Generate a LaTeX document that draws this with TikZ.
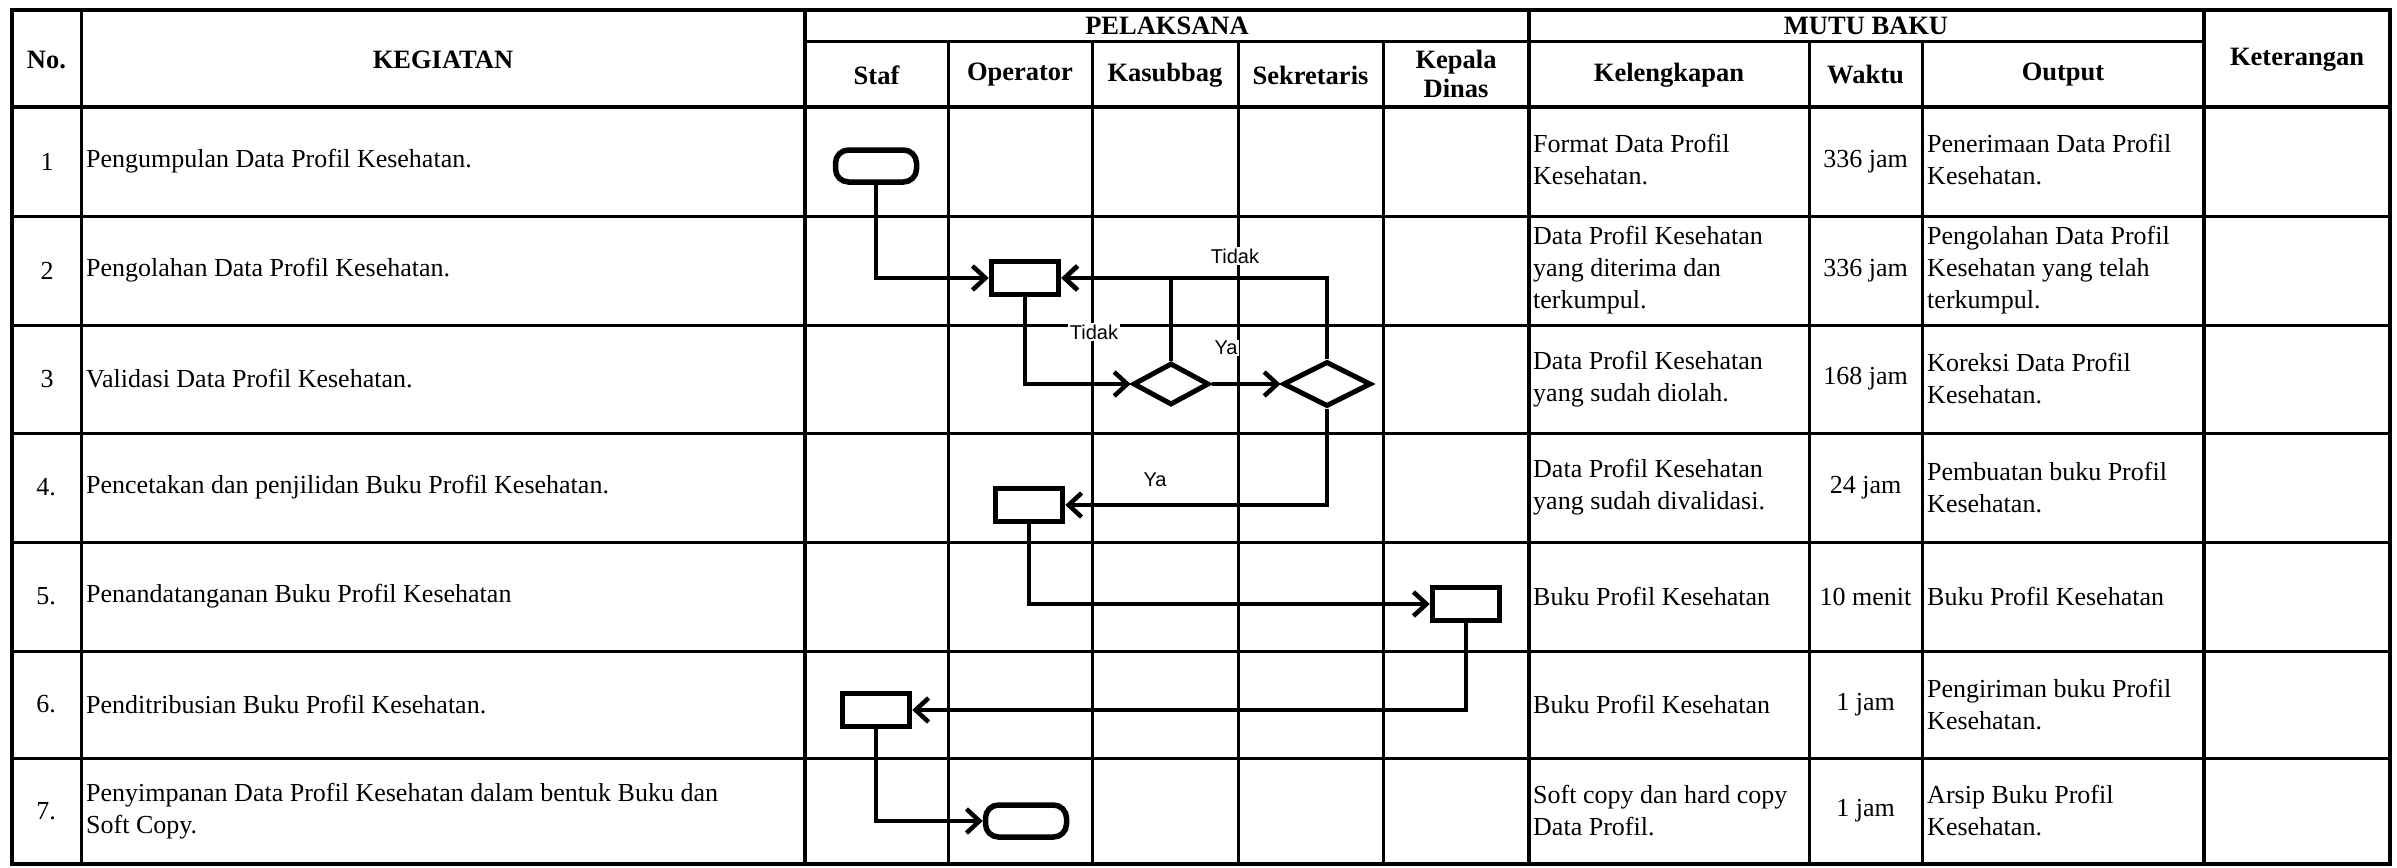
\documentclass[tikz,border=0pt]{standalone}
\usepackage{fontspec}
\setmainfont{Liberation Serif}
\newfontfamily\lblfont{Liberation Sans}
\usetikzlibrary{arrows.meta,shapes.geometric}
\begin{document}
\begin{tikzpicture}[x=1pt,y=-1pt,
  thingrid/.style={line width=3pt},
  thickgrid/.style={line width=4.5pt},
  txt/.style={font=\fontsize{26}{32}\selectfont, inner sep=0pt, align=left, anchor=west},
  ctr/.style={font=\fontsize{26}{32}\selectfont, inner sep=0pt, align=center},
  hdr/.style={font=\fontsize{26.5}{29}\selectfont\bfseries, inner sep=0pt, align=center},
  proc/.style={draw, line width=5.5pt, minimum width=67pt, minimum height=33pt, inner sep=0pt},
  term/.style={draw, line width=5.5pt, rounded corners=13pt, minimum width=81pt, minimum height=32pt, inner sep=0pt},
  dec/.style={draw, diamond, line width=5pt, inner sep=0pt},
  conn/.style={line width=4.5pt, -{Straight Barb[length=13pt,width=24pt]}},
  lbl/.style={font=\lblfont\fontsize{20}{22}\selectfont, fill=white, inner sep=1.5pt}
]
\useasboundingbox (0,0) rectangle (2397,867);
\fill[white] (0,0) rectangle (2397,867);

% grid
\draw[thickgrid] (12,10) rectangle (2390,864);
\draw[thickgrid] (12,107) -- (2390,107);
\foreach \x in {805,1529,2204} \draw[thickgrid] (\x,10) -- (\x,864);
\draw[thingrid] (81,10) -- (81,864);
\draw[thingrid] (805,42) -- (2204,42);
\foreach \x in {948,1092,1238,1383,1809,1922} \draw[thingrid] (\x,42) -- (\x,864);
\foreach \y in {216,325,433,542,651,758} \draw[thingrid] (12,\y) -- (2390,\y);

% header
\node[hdr] (hno) at (46.5,60) {No.};
\node[hdr] (hkeg) at (443,60) {KEGIATAN};
\node[hdr] (hpel) at (1167,26) {PELAKSANA};
\node[hdr] (hmutu) at (1866,26) {MUTU BAKU};
\node[hdr] (hstaf) at (876.5,75) {Staf};
\node[hdr] (hop) at (1020,75) {Operator};
\node[hdr] (hkas) at (1165,75) {Kasubbag};
\node[hdr] (hsek) at (1310.5,75) {Sekretaris};
\node[hdr] (hkd) at (1456,74) {Kepala\\Dinas};
\node[hdr] (hkel) at (1669,75) {Kelengkapan};
\node[hdr] (hwak) at (1865.5,75) {Waktu};
\node[hdr] (hout) at (2063,75) {Output};
\node[hdr] (hket) at (2297,60) {Keterangan};

% numbers
\node[ctr] (n1) at (47,161.5) {1};
\node[ctr] (n2) at (47,270.5) {2};
\node[ctr] (n3) at (47,379) {3};
\node[ctr] (n4) at (46,487.5) {4.};
\node[ctr] (n5) at (46,596.5) {5.};
\node[ctr] (n6) at (46,704.5) {6.};
\node[ctr] (n7) at (46,811) {7.};

% kegiatan
\node[txt] (k1) at (86,161.5) {Pengumpulan Data Profil Kesehatan.};
\node[txt] (k2) at (86,270.5) {Pengolahan Data Profil Kesehatan.};
\node[txt] (k3) at (86,379) {Validasi Data Profil Kesehatan.};
\node[txt] (k4) at (86,487.5) {Pencetakan dan penjilidan Buku Profil Kesehatan.};
\node[txt] (k5) at (86,596.5) {Penandatanganan Buku Profil Kesehatan};
\node[txt] (k6) at (86,704.5) {Penditribusian Buku Profil Kesehatan.};
\node[txt] (k7) at (86,811) {Penyimpanan Data Profil Kesehatan dalam bentuk Buku dan\\Soft Copy.};

% kelengkapan
\node[txt] (l1) at (1533,160) {Format Data Profil\\Kesehatan.};
\node[txt] (l2) at (1533,270.5) {Data Profil Kesehatan\\yang diterima dan\\terkumpul.};
\node[txt] (l3) at (1533,379) {Data Profil Kesehatan\\yang sudah diolah.};
\node[txt] (l4) at (1533,487.5) {Data Profil Kesehatan\\yang sudah divalidasi.};
\node[txt] (l5) at (1533,596.5) {Buku Profil Kesehatan};
\node[txt] (l6) at (1533,704.5) {Buku Profil Kesehatan};
\node[txt] (l7) at (1533,811) {Soft copy dan hard copy\\Data Profil.};

% waktu
\node[ctr] (w1) at (1865.5,161.5) {336 jam};
\node[ctr] (w2) at (1865.5,270.5) {336 jam};
\node[ctr] (w3) at (1865.5,379) {168 jam};
\node[ctr] (w4) at (1865.5,487.5) {24 jam};
\node[ctr] (w5) at (1865.5,596.5) {10 menit};
\node[ctr] (w6) at (1865.5,704.5) {1 jam};
\node[ctr] (w7) at (1865.5,811) {1 jam};

% output
\node[txt] (o1) at (1927,160) {Penerimaan Data Profil\\Kesehatan.};
\node[txt] (o2) at (1927,270.5) {Pengolahan Data Profil\\Kesehatan yang telah\\terkumpul.};
\node[txt] (o3) at (1927,379) {Koreksi Data Profil\\Kesehatan.};
\node[txt] (o4) at (1927,487.5) {Pembuatan buku Profil\\Kesehatan.};
\node[txt] (o5) at (1927,596.5) {Buku Profil Kesehatan};
\node[txt] (o6) at (1927,704.5) {Pengiriman buku Profil\\Kesehatan.};
\node[txt] (o7) at (1927,811) {Arsip Buku Profil\\Kesehatan.};

% flowchart shapes
\node[term] (start) at (876,166) {};
\node[proc] (b2) at (1025,278) {};
\node[dec, minimum width=76pt, minimum height=42pt] (d1) at (1171,384) {};
\node[dec, minimum width=88pt, minimum height=45pt] (d2) at (1327,384) {};
\node[proc] (b4) at (1029,505) {};
\node[proc] (b5) at (1466,604) {};
\node[proc] (b6) at (876,710) {};
\node[term] (end) at (1026,821) {};

% connectors
\draw[conn] (start.south) |- (b2.west);
\draw[conn] (b2.south) |- (d1.west);
\draw[conn] (d1.north) |- (b2.east);
\draw[conn] (d1.east) -- (d2.west);
\draw[conn] (d2.north) |- (b2.east);
\draw[conn] (d2.south) |- (b4.east);
\draw[conn] (b4.south) |- (b5.west);
\draw[conn] (b5.south) |- (b6.east);
\draw[conn] (b6.south) |- (end.west);

% labels
\node[lbl] (t1) at (1094,332) {Tidak};
\node[lbl] (t2) at (1235,256) {Tidak};
\node[lbl] (y1) at (1226,348) {Ya};
\node[lbl] (y2) at (1155,480) {Ya};
\end{tikzpicture}
\end{document}
